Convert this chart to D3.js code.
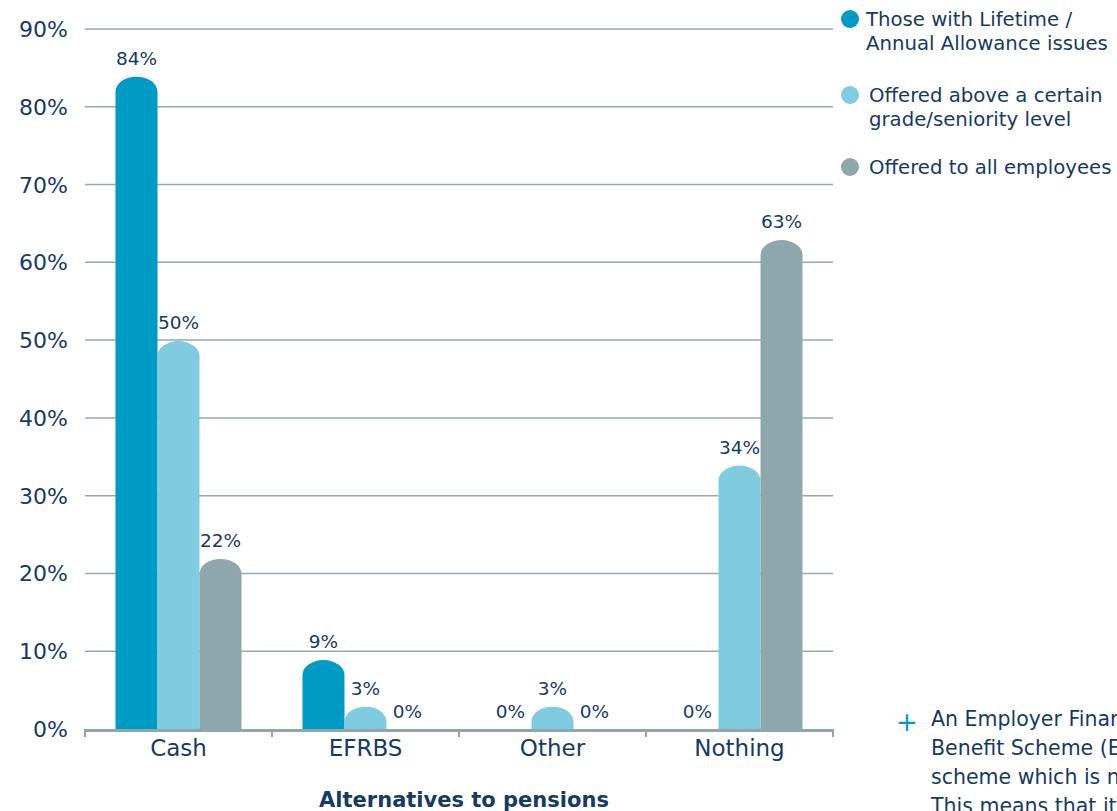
<!DOCTYPE html>
<html><head><meta charset="utf-8">
<script src="https://cdn.jsdelivr.net/npm/d3@7"></script>
<style>body{margin:0;background:#fff;overflow:hidden}svg{display:block}text{font-family:"DejaVu Sans",sans-serif}</style>
</head><body>
<script>
const categories = ["Cash", "EFRBS", "Other", "Nothing"];
const seriesNames = ["Those with Lifetime / Annual Allowance issues", "Offered above a certain grade/seniority level", "Offered to all employees"];
const lifetimeAllowance = [84, 9, 0, 0];
const aboveGrade = [50, 3, 3, 34];
const allEmployees = [22, 0, 0, 63];
const yTicks = [0, 10, 20, 30, 40, 50, 60, 70, 80, 90];
const legendLines = [["Those with Lifetime /", "Annual Allowance issues"], ["Offered above a certain", "grade/seniority level"], ["Offered to all employees"]];
const xTitle = "Alternatives to pensions";
const noteLines = ["An Employer Financed Retirement", "Benefit Scheme (EFRBS) is a", "scheme which is not registered", "This means that it is not subject"];

const colors = ["#009bc4", "#7fcbdf", "#8ea7ac"];
const textColor = "#163a66";
const W = 1117, H = 811;
const svg = d3.select("body").append("svg").attr("width", W).attr("height", H);

const x = d3.scaleBand().domain(categories).range([85, 833]).paddingInner(0).paddingOuter(0);
const y = d3.scaleLinear().domain([0, 90]).range([729, 29]);
const series = [lifetimeAllowance, aboveGrade, allEmployees];
const groupW = x.bandwidth() * 0.674;
const x1 = d3.scaleBand().domain([0, 1, 2]).range([0, groupW]);

// gridlines
svg.append("g").selectAll("line").data(yTicks.filter(d => d > 0)).join("line")
  .attr("x1", 85).attr("x2", 833).attr("y1", d => y(d)).attr("y2", d => y(d))
  .attr("stroke", "#93aab0").attr("stroke-width", 1.5);

// y labels
svg.append("g").selectAll("text").data(yTicks).join("text")
  .attr("x", 68).attr("y", d => y(d) + 8).attr("text-anchor", "end")
  .attr("font-size", 22).attr("fill", textColor).text(d => d + "%");

// bars
function barPath(x0, w, top, bottom) {
  const h = bottom - top;
  if (h <= 0) return "";
  const rx = w / 2, ry = Math.min(15, h);
  return `M${x0},${bottom}V${top + ry}A${rx},${ry} 0 0 1 ${x0 + w},${top + ry}V${bottom}Z`;
}
const bars = [];
categories.forEach((c, i) => series.forEach((s, j) => bars.push({ c, j, v: s[i] })));
const g = svg.append("g");
bars.forEach(b => {
  const bx = x(b.c) + (x.bandwidth() - groupW) / 2 + x1(b.j);
  const w = x1.bandwidth();
  g.append("path").attr("d", barPath(bx, w, y(b.v) + 1, y(0))).attr("fill", colors[b.j]);
  g.append("text").attr("x", bx + w / 2).attr("y", y(b.v) - 11).attr("text-anchor", "middle")
    .attr("font-size", 18.5).attr("fill", textColor).text(b.v + "%");
});

// x axis
const ax = svg.append("g");
ax.append("line").attr("x1", 84).attr("x2", 834).attr("y1", 730.5).attr("y2", 730.5)
  .attr("stroke", "#8fa6ab").attr("stroke-width", 3);
const bounds = categories.map(c => x(c)).concat([x.range()[1]]);
ax.selectAll("line.t").data(bounds).join("line").attr("class", "t")
  .attr("x1", d => d).attr("x2", d => d).attr("y1", 730).attr("y2", 737)
  .attr("stroke", "#8fa6ab").attr("stroke-width", 2);
ax.selectAll("text").data(categories).join("text")
  .attr("x", d => x(d) + x.bandwidth() / 2).attr("y", 756).attr("text-anchor", "middle")
  .attr("font-size", 23).attr("fill", textColor).text(d => d);

svg.append("text").attr("x", 464).attr("y", 807).attr("text-anchor", "middle")
  .attr("font-size", 21).attr("font-weight", "bold").attr("fill", textColor).text(xTitle);

// legend
const legY = [19, 95, 167];
const legTX = [866, 869, 869];
legendLines.forEach((lines, i) => {
  svg.append("circle").attr("cx", 850).attr("cy", legY[i]).attr("r", 9).attr("fill", colors[i]);
  lines.forEach((t, k) => {
    svg.append("text").attr("x", legTX[i]).attr("y", legY[i] + 7 + k * 24)
      .attr("font-size", 19.7).attr("fill", textColor).text(t);
  });
});

// note
svg.append("text").attr("x", 907).attr("y", 731).attr("text-anchor", "middle")
  .attr("font-size", 26).attr("fill", "#009bc4").text("+");
noteLines.forEach((t, k) => {
  svg.append("text").attr("x", 931).attr("y", 726 + k * 29).attr("font-size", 20.5)
    .attr("fill", textColor).text(t);
});
</script>
</body></html>
